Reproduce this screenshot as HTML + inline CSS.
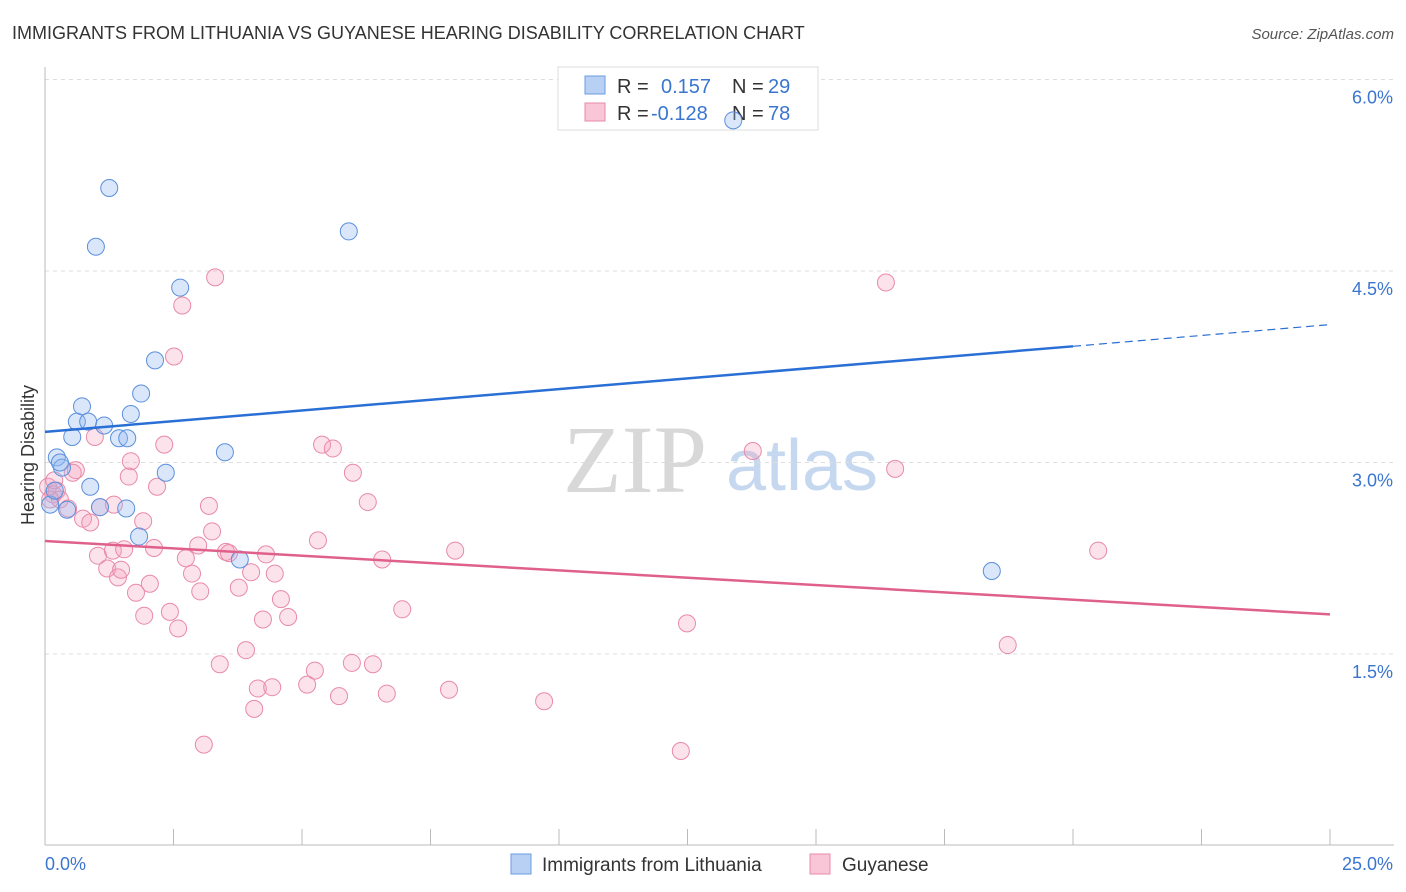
<!DOCTYPE html>
<html><head><meta charset="utf-8"><style>
body{margin:0;background:#fff;font-family:"Liberation Sans",sans-serif;}
svg{display:block}
</style></head><body>
<svg id="chart" width="1406" height="892">
<text x="12" y="39" font-size="18" fill="#333">IMMIGRANTS FROM LITHUANIA VS GUYANESE HEARING DISABILITY CORRELATION CHART</text>
<text x="1394" y="39" font-size="15" fill="#555" font-style="italic" text-anchor="end">Source: ZipAtlas.com</text>
<g>
<text x="635" y="492" font-size="96" fill="#d8d8d8" font-family="Liberation Serif,serif" text-anchor="middle">ZIP</text>
<text x="802" y="490" font-size="72" fill="#c5d8f0" text-anchor="middle">atlas</text>
</g>
<g id="grid"></g>
<g id="axes"></g>
<g>
<rect x="558" y="67" width="260" height="63" fill="#fff" stroke="#ddd"/>
<rect x="585" y="76" width="20" height="18" fill="#b8d0f4" stroke="#6a9be0"/>
<text x="617" y="93" font-size="20" fill="#333">R =</text><text x="661" y="93" font-size="20" fill="#3a76d0">0.157</text>
<text x="732" y="93" font-size="20" fill="#333">N =</text><text x="768" y="93" font-size="20" fill="#3a76d0">29</text>
<rect x="585" y="103" width="20" height="18" fill="#f8c6d6" stroke="#e88aa8"/>
<text x="617" y="120" font-size="20" fill="#333">R =</text><text x="651" y="120" font-size="20" fill="#3a76d0">-0.128</text>
<text x="732" y="120" font-size="20" fill="#333">N =</text><text x="768" y="120" font-size="20" fill="#3a76d0">78</text>
</g>
<g>
<rect x="511" y="854" width="20" height="20" fill="#b8d0f4" stroke="#6a9be0"/>
<text x="542" y="871" font-size="19" fill="#333">Immigrants from Lithuania</text>
<rect x="810" y="854" width="20" height="20" fill="#f8c6d6" stroke="#e88aa8"/>
<text x="842" y="871" font-size="19" fill="#333">Guyanese</text>
</g>
<g id="marks"></g>
<text transform="translate(34,455) rotate(-90)" font-size="18" fill="#333" text-anchor="middle">Hearing Disability</text>
</svg>
<script>
const yTicks=[1.5,3.0,4.5,6.0];
const yTickLabels=["1.5%","3.0%","4.5%","6.0%"];
const xTicks=[0,2.5,5,7.5,10,12.5,15,17.5,20,22.5,25];
const xEndLabels=["0.0%","25.0%"];
const blueX=[0.10,0.23,0.33,0.53,0.62,0.72,0.84,0.88,1.07,1.15,1.25,0.99,1.44,1.58,1.60,1.67,1.83,1.87,2.14,2.35,2.63,3.50,3.79,5.91,13.39,18.42,0.43,0.19,0.29];
const blueY=[2.67,3.04,2.96,3.20,3.32,3.44,3.32,2.81,2.65,3.29,5.15,4.69,3.19,2.64,3.19,3.38,2.42,3.54,3.80,2.92,4.37,3.08,2.24,4.81,5.68,2.15,2.63,2.78,3.00];
const pinkX=[3.31,2.67,2.51,16.36,13.77,16.54,5.39,5.60,2.32,0.97,1.67,1.63,2.18,5.99,0.60,0.54,0.06,0.16,0.23,0.29,0.45,0.74,0.88,1.34,1.91,6.28,3.19,3.25,5.31,7.98,20.49,1.03,1.32,1.54,2.12,2.74,2.98,3.52,3.58,4.30,6.56,1.21,1.42,1.48,2.86,4.01,4.47,2.04,1.77,3.02,3.77,4.59,2.43,1.93,2.59,4.24,4.73,6.95,12.49,18.73,3.91,3.40,5.25,5.97,6.38,4.14,4.42,5.10,5.72,6.65,7.86,9.71,4.07,3.09,12.37,1.07,0.18,0.10];
const pinkY=[4.45,4.23,3.83,4.41,3.09,2.95,3.14,3.11,3.14,3.20,3.01,2.89,2.81,2.92,2.94,2.92,2.81,2.75,2.78,2.71,2.64,2.56,2.53,2.67,2.54,2.69,2.66,2.46,2.39,2.31,2.31,2.27,2.31,2.32,2.33,2.25,2.35,2.30,2.29,2.28,2.24,2.17,2.10,2.16,2.13,2.14,2.13,2.05,1.98,1.99,2.02,1.93,1.83,1.80,1.70,1.77,1.79,1.85,1.74,1.57,1.53,1.42,1.37,1.43,1.42,1.23,1.24,1.26,1.17,1.19,1.22,1.13,1.07,0.79,0.74,2.65,2.86,2.71];
const blueTrend=[[0,3.24],[20,3.91]];
const blueTrendExt=[[20,3.91],[25,4.08]];
const pinkTrend=[[0,2.385],[25,1.81]];

const NS="http://www.w3.org/2000/svg";
const X0=45,X1=1330,YB=845.5,PX_PER=127.67;
function sx(v){return X0+(X1-X0)*v/25;}
function sy(v){return YB-v*PX_PER;}
function mk(tag,attrs,parent){const e=document.createElementNS(NS,tag);for(const k in attrs)e.setAttribute(k,attrs[k]);parent.appendChild(e);return e;}
const grid=document.getElementById('grid'),axes=document.getElementById('axes'),marks=document.getElementById('marks');
yTicks.forEach((t,i)=>{
  const l=mk('line',{x1:45,x2:1394,y1:sy(t),y2:sy(t),stroke:'#ddd','stroke-dasharray':'4,4'},grid);
  
  
  const tx=mk('text',{x:1393,y:sy(t)+24,'font-size':18,fill:'#3a76d0','text-anchor':'end'},axes);
  tx.textContent=yTickLabels[i];
  
  
});
const ax=mk('line',{x1:45,x2:45,y1:67,y2:845,stroke:'#bbb'},axes);


const bx=mk('line',{x1:45,x2:1394,y1:845,y2:845,stroke:'#bbb'},axes);


xTicks.forEach(t=>{
  const l=mk('line',{x1:sx(t),x2:sx(t),y1:829,y2:845,stroke:'#bbb'},axes);
  
  
});
const xl0=mk('text',{x:45,y:870,'font-size':18,fill:'#3a76d0'},axes);xl0.textContent=xEndLabels[0];


const xl1=mk('text',{x:1393,y:870,'font-size':18,fill:'#3a76d0','text-anchor':'end'},axes);xl1.textContent=xEndLabels[1];


pinkX.forEach((v,i)=>{
  const c=mk('circle',{cx:sx(v),cy:sy(pinkY[i]),r:8.5,fill:'rgba(244,160,190,0.3)',stroke:'#e88aa8','stroke-width':1},marks);
  
  
});
blueX.forEach((v,i)=>{
  const c=mk('circle',{cx:sx(v),cy:sy(blueY[i]),r:8.5,fill:'rgba(150,185,240,0.35)',stroke:'#5b8fdc','stroke-width':1},marks);
  
  
});
const bt=mk('line',{x1:sx(blueTrend[0][0]),y1:sy(blueTrend[0][1]),x2:sx(blueTrend[1][0]),y2:sy(blueTrend[1][1]),stroke:'#2a6fd6','stroke-width':2.5},marks);


const be=mk('line',{x1:sx(blueTrendExt[0][0]),y1:sy(blueTrendExt[0][1]),x2:sx(blueTrendExt[1][0]),y2:sy(blueTrendExt[1][1]),stroke:'#2a6fd6','stroke-width':1.2,'stroke-dasharray':'8,5'},marks);


const pt=mk('line',{x1:sx(pinkTrend[0][0]),y1:sy(pinkTrend[0][1]),x2:sx(pinkTrend[1][0]),y2:sy(pinkTrend[1][1]),stroke:'#e0608c','stroke-width':2.5},marks);


</script>
</body></html>
